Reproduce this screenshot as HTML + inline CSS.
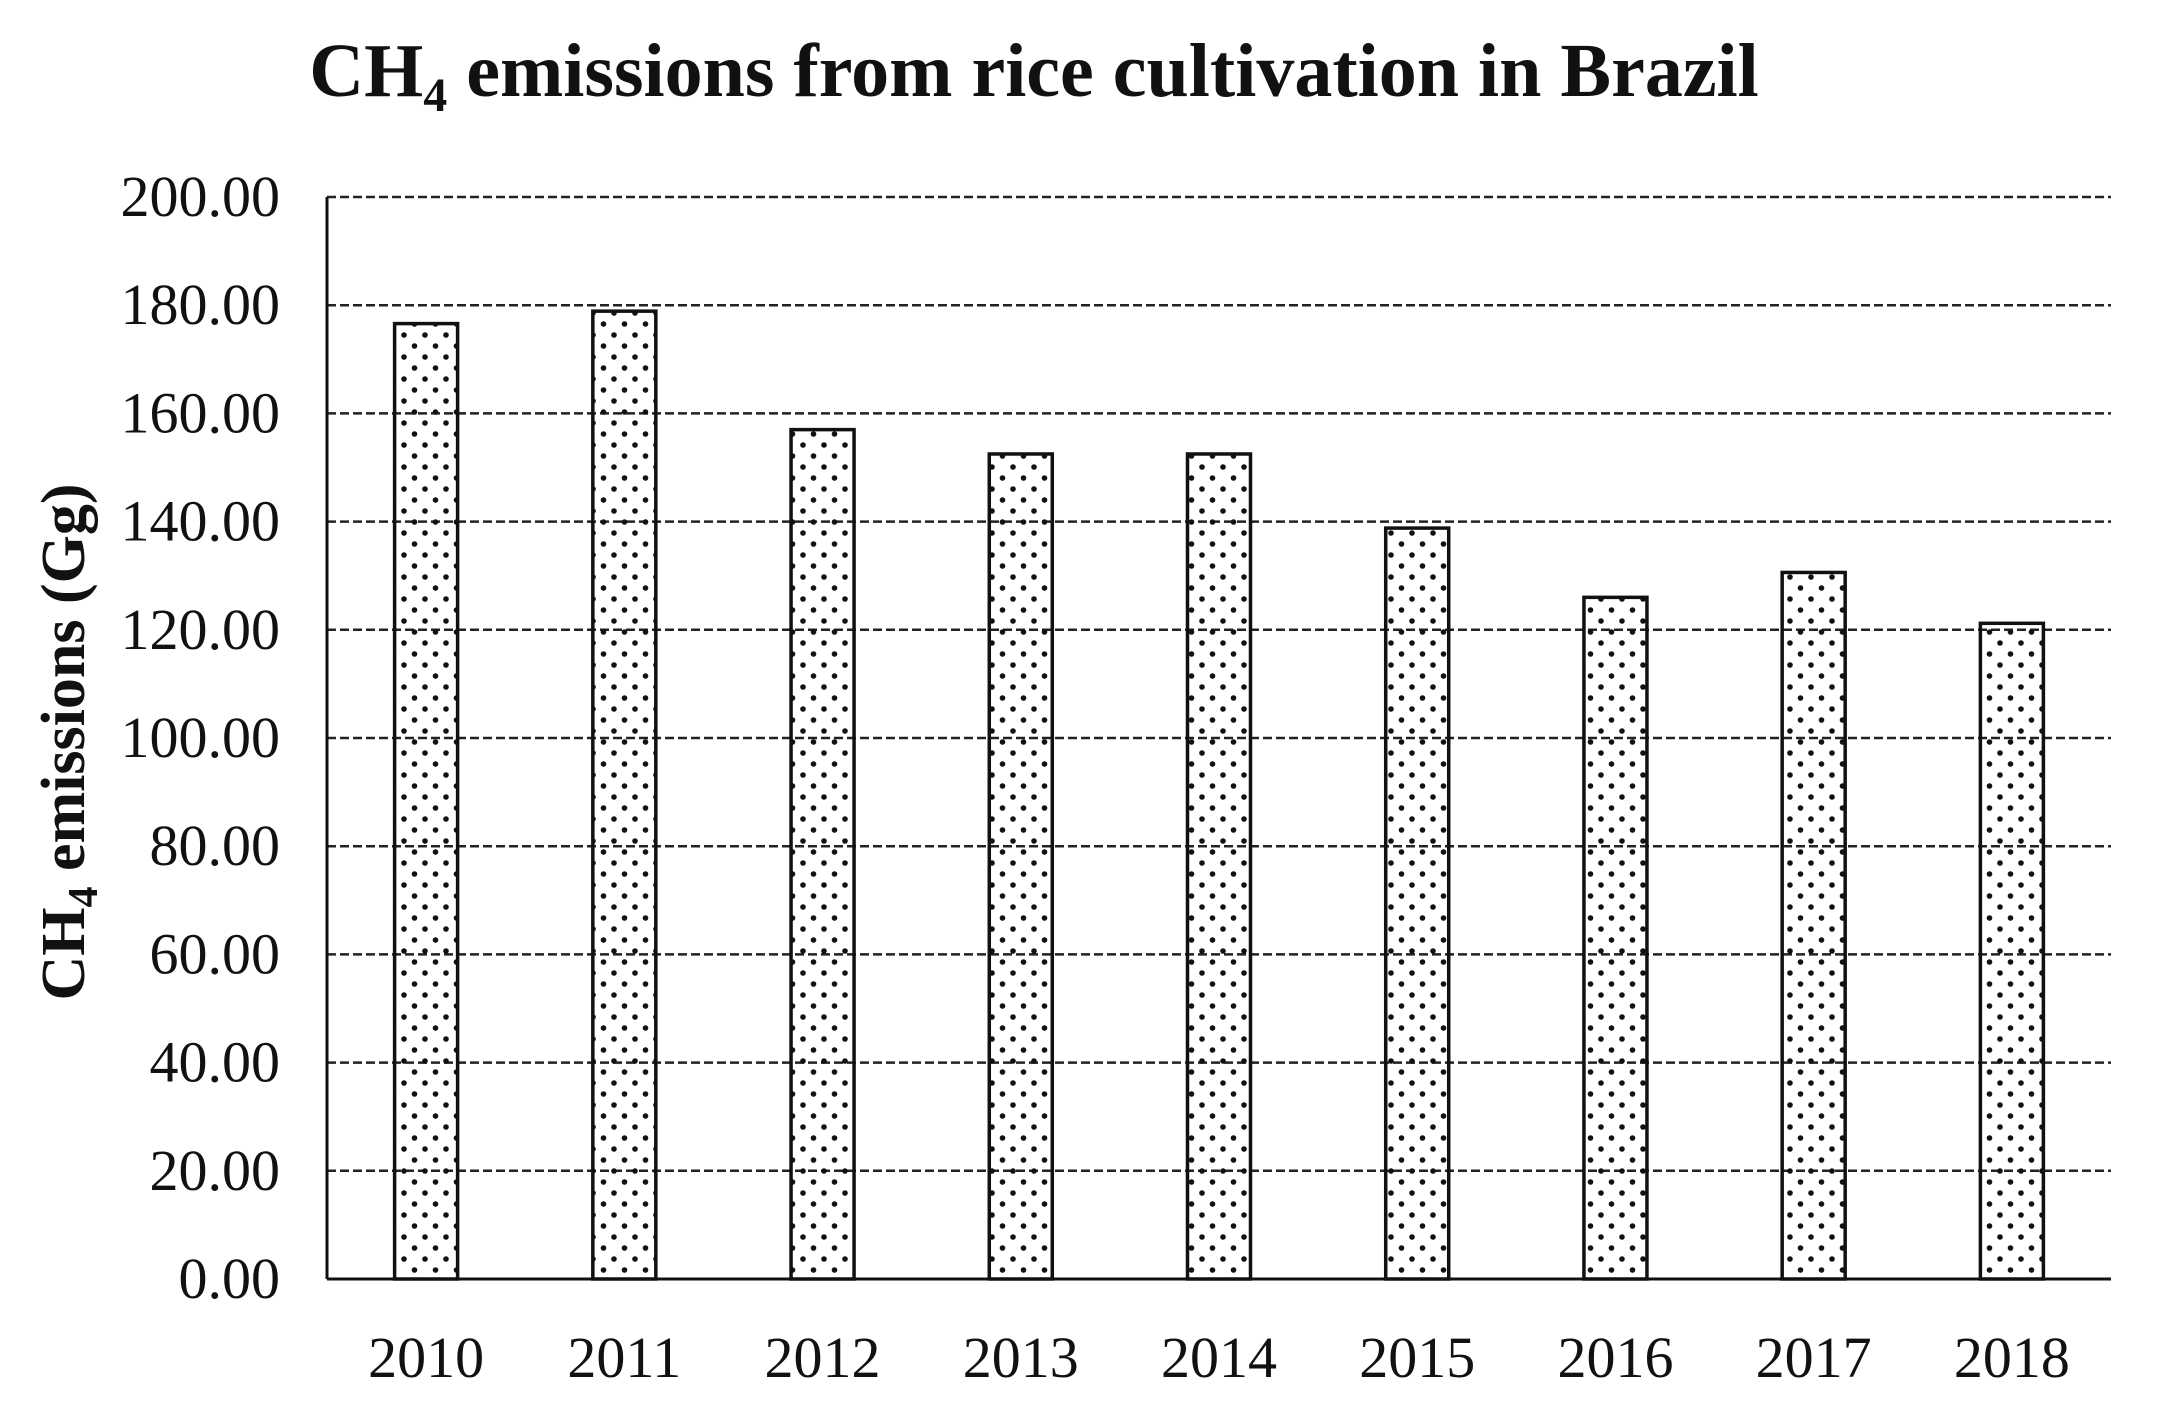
<!DOCTYPE html>
<html><head><meta charset="utf-8"><style>
html,body{margin:0;padding:0;background:#fff;}
svg{display:block;}
</style></head><body>
<svg id="chart" width="2157" height="1415" viewBox="0 0 2157 1415" xmlns="http://www.w3.org/2000/svg">
<defs>
<pattern id="dots" width="21" height="22" patternUnits="userSpaceOnUse">
<circle cx="5" cy="5" r="2.8" fill="#111"/>
<circle cx="15.5" cy="16" r="2.8" fill="#111"/>
</pattern>
</defs>
<text x="1034" y="96" text-anchor="middle" font-family="Liberation Serif, serif" font-weight="bold" font-size="76" fill="#111">CH<tspan font-size="48" dy="15">4</tspan><tspan dy="-15"> emissions from rice cultivation in Brazil</tspan></text>
<text transform="translate(84,742) rotate(-90)" text-anchor="middle" font-family="Liberation Serif, serif" font-weight="bold" font-size="62" fill="#111">CH<tspan font-size="42" dy="13">4</tspan><tspan dy="-13"> emissions (Gg)</tspan></text>
<g id="grid"></g>
<g id="bars"></g>
<g id="axes"></g>
</svg>
<script>
const categories = ["2010","2011","2012","2013","2014","2015","2016","2017","2018"];
const values = [176.6, 178.9, 157.0, 152.5, 152.5, 138.8, 126.0, 130.6, 121.2];
const yTicks = [0,20,40,60,80,100,120,140,160,180,200];
const yTickLabels = ["0.00","20.00","40.00","60.00","80.00","100.00","120.00","140.00","160.00","180.00","200.00"];

const NS = "http://www.w3.org/2000/svg";
const L = 327, R = 2111, T = 197, B = 1279, yMax = 200, barW = 63;
const y = v => B - (v / yMax) * (B - T);
const band = (R - L) / categories.length;
const x = i => L + band * (i + 0.5);
function mk(tag, attrs, parent){ const e = document.createElementNS(NS, tag); for (const k in attrs) e.setAttribute(k, attrs[k]); parent.appendChild(e); return e; }
const grid = document.getElementById('grid'), bars = document.getElementById('bars'), axes = document.getElementById('axes');
yTicks.forEach((t, i) => {
  if (t > 0) {
    const g = mk('line', {x1: L, x2: R, y1: y(t), y2: y(t), stroke: '#222', 'stroke-width': 2.5, 'stroke-dasharray': '9 4'}, grid);
    
    
  }
  const lb = mk('text', {x: 280, y: y(t) + 19, 'text-anchor': 'end', 'font-family': 'Liberation Serif, serif', 'font-size': 58, fill: '#111'}, axes);
  lb.textContent = yTickLabels[i];
  
  
});
categories.forEach((c, i) => {
  const r = mk('rect', {x: x(i) - barW / 2, y: y(values[i]), width: barW, height: B - y(values[i]), fill: 'url(#dots)', stroke: '#111', 'stroke-width': 3.5}, bars);
  
  
  const lb = mk('text', {x: x(i), y: 1377, 'text-anchor': 'middle', 'font-family': 'Liberation Serif, serif', 'font-size': 58, fill: '#111'}, axes);
  lb.textContent = c;
  
  
});
const ya = mk('line', {x1: L, x2: L, y1: T, y2: B, stroke: '#111', 'stroke-width': 3}, axes);


const xa = mk('line', {x1: L, x2: R, y1: B, y2: B, stroke: '#111', 'stroke-width': 3}, axes);


</script>
</body></html>
